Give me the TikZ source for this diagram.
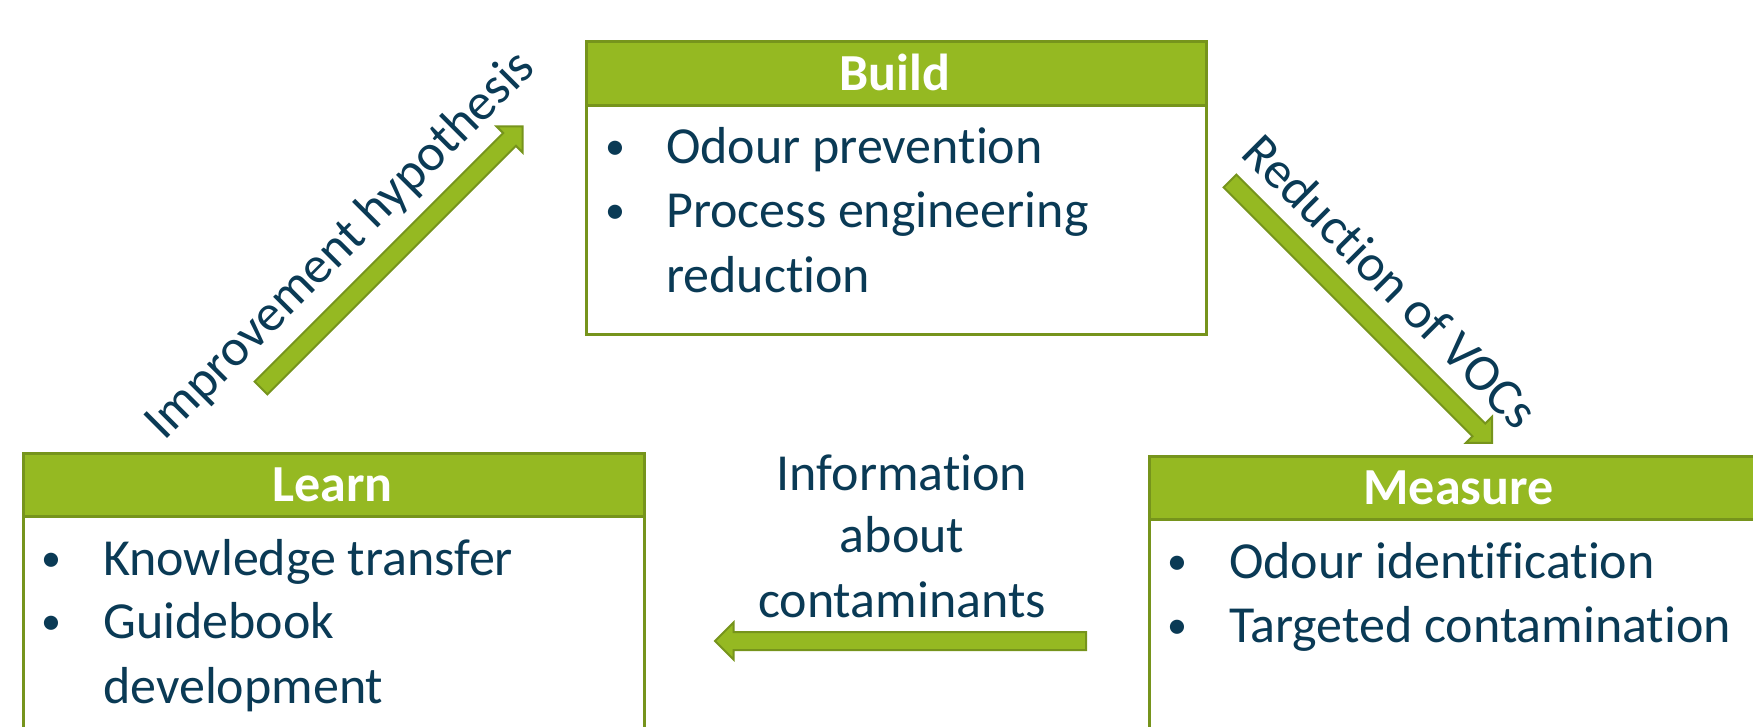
\documentclass[tikz,border=0pt]{standalone}
\usepackage{fontspec}
\setmainfont[Ligatures={NoCommon}, Contextuals={NoAlternate}]{Carlito}
\definecolor{leaf}{HTML}{95B922}
\definecolor{leafdark}{HTML}{76941C}
\definecolor{ink}{HTML}{0A3A55}
\newcommand\bigtext{\fontsize{52}{64}\selectfont}
% block arrow: tail coordinate, direction angle, length
\newcommand\blockarrow[3]{%
  \draw[arrowshape, shift={(#1)}, rotate=#2]
    (0,-9) -- ({#3-18.5},-9) -- ({#3-18.5},-18.5) -- (#3,0)
    -- ({#3-18.5},18.5) -- ({#3-18.5},9) -- (0,9) -- cycle;}
\tikzset{
  panel/.style={draw=leafdark, line width=2.5pt, fill=white, inner sep=0, anchor=north west},
  panelhead/.style={draw=leafdark, line width=2.5pt, fill=leaf, inner sep=0, anchor=north west},
  headtext/.style={text=white, font=\bigtext\bfseries, anchor=base, inner sep=0},
  itemtext/.style={text=ink, font=\bigtext, anchor=base west, inner sep=0},
  itemdot/.style={text=ink, font=\fontsize{40}{48}\selectfont, anchor=base, inner sep=0, yshift=4pt},
  arrowshape/.style={draw=leafdark, line width=2pt, fill=leaf, line join=miter},
  flowlabel/.style={text=ink, font=\bigtext, inner sep=0}
}
\begin{document}
\begin{tikzpicture}[x=1pt, y=-1pt]
  \useasboundingbox (0,0) rectangle (1753,726);
  \clip (0,0) rectangle (1753,726);

  % Build
  \node[panel, minimum width=620pt, minimum height=293pt] (build) at (585,40) {};
  \node[panelhead, minimum width=620pt, minimum height=64pt] (buildhead) at (585,40) {};
  \node[headtext] (buildtitle) at (895,90) {Build};
  \node[itemdot] (bd1) at (615,163) {•};
  \node[itemtext] (bt1) at (666,163) {Odour prevention};
  \node[itemdot] (bd2) at (615,227) {•};
  \node[itemtext] (bt2) at (666,227) {Process engineering};
  \node[itemtext] (bt3) at (666,292) {reduction};

  % Learn
  \node[panel, minimum width=621pt, minimum height=300pt] (learn) at (22,452) {};
  \node[panelhead, minimum width=621pt, minimum height=63pt] (learnhead) at (22,452) {};
  \node[headtext] (learntitle) at (332.5,501) {Learn};
  \node[itemdot] (ld1) at (51,575) {•};
  \node[itemtext] (lt1) at (103,575) {Knowledge transfer};
  \node[itemdot] (ld2) at (51,638) {•};
  \node[itemtext] (lt2) at (103,638) {Guidebook};
  \node[itemtext] (lt3) at (103,703) {development};

  % Measure
  \node[panel, minimum width=621pt, minimum height=300pt] (measure) at (1148,455) {};
  \node[panelhead, minimum width=621pt, minimum height=63pt] (measurehead) at (1148,455) {};
  \node[headtext] (measuretitle) at (1458.5,504) {Measure};
  \node[itemdot] (md1) at (1177,578) {•};
  \node[itemtext] (mt1) at (1229,578) {Odour identification};
  \node[itemdot] (md2) at (1177,642) {•};
  \node[itemtext] (mt2) at (1229,642) {Targeted contamination};

  % Transitions between the stages
  \coordinate (hyptail) at (261,388);
  \coordinate (voctail) at (1230,181);
  \coordinate (infotail) at (1086,641);
  \blockarrow{hyptail}{45}{370}
  \blockarrow{voctail}{-45}{370.5}
  \blockarrow{infotail}{180}{371}

  \node[flowlabel, rotate=45] (hyplabel) at (341,246) {Improvement hypothesis};
  \node[flowlabel, rotate=-45] (voclabel) at (1391,281) {Reduction of VOCs};
  \node[flowlabel, anchor=base] (info1) at (902,490) {Information};
  \node[flowlabel, anchor=base] (info2) at (902,552) {about};
  \node[flowlabel, anchor=base] (info3) at (902,617) {contaminants};
\end{tikzpicture}
\end{document}
